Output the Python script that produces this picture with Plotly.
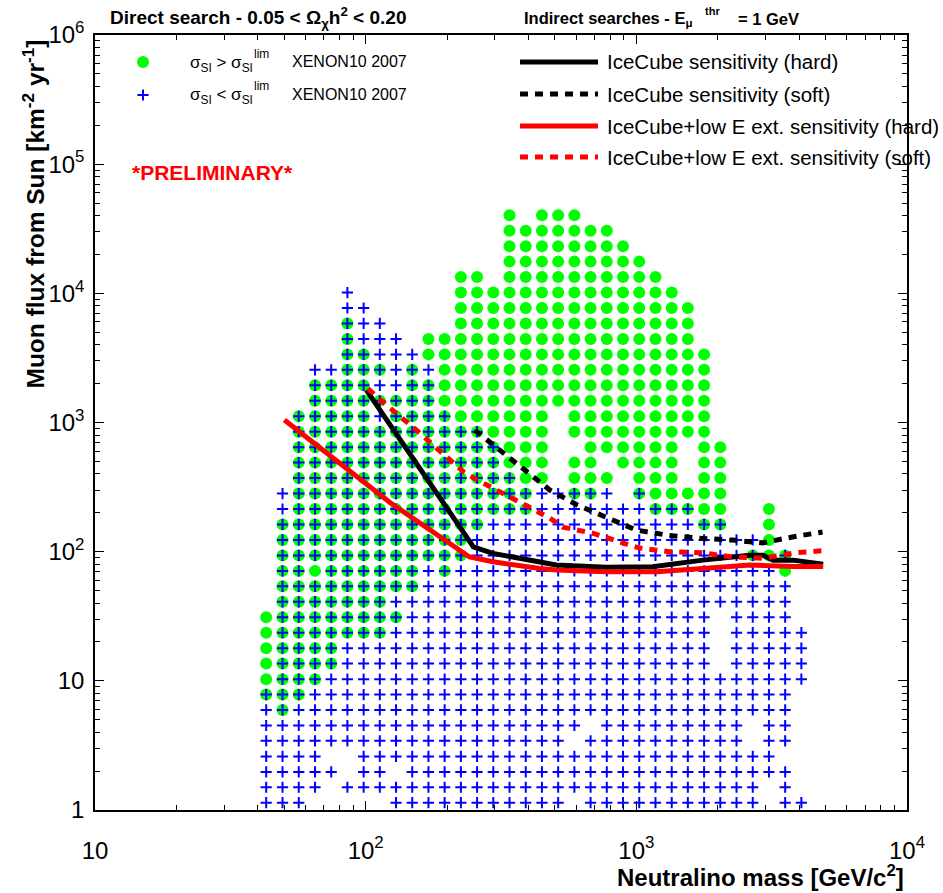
import plotly.graph_objects as go

# ---- scan grid (neutralino mass columns, muon-flux rows) ----
MASS = [42.9, 49.3, 56.6, 65.0, 74.6, 85.6, 98.3, 112.8, 129.5, 148.6, 170.6, 195.8,
        224.8, 258, 296.2, 340, 390.3, 448, 514.3, 590.4, 677.6, 777.9, 892.9, 1025,
        1177, 1351, 1550, 1780, 2043, 2345, 2692, 3090, 3547, 4071]
FLUX = [1.14, 1.50, 1.97, 2.60, 3.43, 4.51, 5.95, 7.83, 10.3, 13.6, 17.9, 23.6, 31.1,
        40.9, 53.9, 71.0, 93.6, 123.3, 162.4, 214, 281.8, 371.3, 489.1, 644.4, 848.9,
        1118, 1473, 1941, 2556, 3368, 4436, 5845, 7700, 10140, 13360, 17600, 23190,
        30550, 40250]

# one string per flux row, highest flux first; one character per mass column
# g = sigma_SI > limit, b = sigma_SI < limit, x = both, . = none
SCAN = [
    "...............g.ggg..............",
    "...............ggggggg............",
    "...............gggggggg...........",
    "...............ggggggggg..........",
    "............gg.gggggggggg.........",
    ".....b......gggggggggggggg........",
    ".....bb.....ggggggggggggggg.......",
    ".....xbb....ggggggggggggggg.......",
    ".....xbbb.ggggggggggggggggg.......",
    ".....xxbbbgggggggggggggggggg......",
    "...bbxxxbxbggggggggggggggggg......",
    "...xxxxbbxxggggggggggggggggg......",
    "...xxxxxxxxggggggggggggggggg......",
    "..xxxxxbxxxxgggggg.ggggggggg......",
    "..xxxxxxxxxxxxgggg.ggggggggg......",
    "..xxxxxxxxxxxxxggg..gggggg.gg.....",
    "..xxxxxxxxxxxxxggg.gg.gggg.gg.....",
    "..xxxxxxxxxxxxxxgg.ggg.ggg.gg.....",
    ".bxxxxxxxxxxxxxxxbbxxb.xggggg.....",
    ".bxxxxxxxxxxxxxxxbbbbbbbxxxgg..g..",
    ".xxxxxxxxxxxxxbbbbbbbbbbbbbxx..g..",
    ".xxxxxxxxxxxxbbbbbbbbbbbbbbbbbbg..",
    ".xxxxxxxxxxxxbbbbbbbbbbbbbbbbbxgx.",
    ".xxgxxxxxxbxbbbbbbbbbbbbbbbbbbbbg.",
    ".xxxxxxxxxbbbbbbbbbbbbbbbbbbbbbbb.",
    ".xxxxxxxbbbbbbbbbbbbbbbbbbbbbbbbb.",
    "gxxxxxxxxbbbbbbbbbbbbbbbbbbb.bbbb.",
    "gxxxxxxxbbbbbbbbbbbbbbbbbbbb.bbbbb",
    "gxxxxbbbbbbbbbbbbbbbbbbbbbbb.bbbbb",
    "gxxxxbbbbbbbbbbbbbbbbbbbbbbb.bbbbb",
    "gxxxbbbbbbbbbbbbbbbbbbbbbbbbbbbbbb",
    "xxxbbbbbbbbbbbbbbbbbbbbbbbbbbbbbb.",
    "bxbbbbbbbbbbbbbbbbbbbbbbbbbbbbbbb.",
    "bbbbbbbbbbbbbbbbbbbb.bbbbbbbbb.bb.",
    "bbbbbbbbbbbbbbbbbbb.bbbbbbbbbb.bb.",
    "bbbb..bbbbbbbbbbbbbbbbbbbbbbbbbb..",
    "bbbbb.bb.bbbbbbbbbbbbbbbbbbbbbbbb.",
    "bbbb.bbbbbbbbbbbbbbbbbbbbbbbbbb.b.",
    "bbb.....bbbbbbbbbbb.bbbbbbbbbbb.bb",
]

# ---- IceCube sensitivity curves ----
HARD_M = [100.6, 250, 295, 506, 774, 1150, 1760, 2620, 2940, 3200, 3800, 4900]
HARD_F = [1780, 109, 97, 79, 75.6, 76.4, 86, 94, 94, 86, 86, 80]
SOFT_M = [253, 318, 393, 479, 607, 776, 1000, 1305, 1710, 2264, 2924, 3776, 4876]
SOFT_F = [873, 590, 413, 300, 229, 182, 147, 134, 127, 123, 117, 130, 142]
LOWE_HARD_M = [50.1, 123, 242, 295, 440, 506, 774, 1190, 1760, 2620, 3800, 4900]
LOWE_HARD_F = [1045, 240, 91, 83.5, 74, 72, 70, 70, 74, 79, 76.6, 76.6]
LOWE_SOFT_M = [102, 114, 154, 230, 259, 331, 421, 479, 535, 690, 890, 1020, 1320, 1740,
               2260, 2950, 3890, 4960]
LOWE_SOFT_F = [1830, 1480, 873, 414, 358, 275, 210, 182, 155, 139, 117, 107, 100, 98,
               91, 89, 98, 102]

X_TICKS = [10, 100, 1000, 10000]
X_TEXT = ["10", "10<sup>2</sup>", "10<sup>3</sup>", "10<sup>4</sup>"]
Y_TICKS = [1, 10, 100, 1000, 1e4, 1e5, 1e6]
Y_TEXT = ["1", "10", "10<sup>2</sup>", "10<sup>3</sup>", "10<sup>4</sup>",
          "10<sup>5</sup>", "10<sup>6</sup>"]

GREEN = "#00ff00"
BLUE = "#0000ff"
RED = "#ff0000"
FONT = "Liberation Sans, Arial, sans-serif"
DOT = "8px,7px"

# ---- build point lists ----
gx, gy, bx, by = [], [], [], []
nrow = len(FLUX)
for k, row in enumerate(SCAN):
    f = FLUX[nrow - 1 - k]
    for i, c in enumerate(row):
        if c in "gx":
            gx.append(MASS[i]); gy.append(f)
        if c in "bx":
            bx.append(MASS[i]); by.append(f)

fig = go.Figure()
fig.add_trace(go.Scatter(x=gx, y=gy, mode="markers",
                         marker=dict(symbol="circle", size=12, color=GREEN, line=dict(width=0))))
fig.add_trace(go.Scatter(x=bx, y=by, mode="markers",
                         marker=dict(symbol="cross-thin", size=8, line=dict(width=2, color=BLUE))))
fig.add_trace(go.Scatter(x=HARD_M, y=HARD_F, mode="lines", line=dict(color="black", width=5)))
fig.add_trace(go.Scatter(x=SOFT_M, y=SOFT_F, mode="lines", line=dict(color="black", width=5, dash=DOT)))
fig.add_trace(go.Scatter(x=LOWE_HARD_M, y=LOWE_HARD_F, mode="lines", line=dict(color=RED, width=5)))
fig.add_trace(go.Scatter(x=LOWE_SOFT_M, y=LOWE_SOFT_F, mode="lines", line=dict(color=RED, width=5, dash=DOT)))

# ---- hand-made legend on an overlay axis in plot-area fractions ----
L, R, T, B = 95, 907, 35, 810
def PX(p): return (p - L) / (R - L)
def PY(p): return (B - p) / (B - T)

fig.add_trace(go.Scatter(x=[PX(143)], y=[PY(62)], xaxis="x2", yaxis="y2", mode="markers",
                         marker=dict(symbol="circle", size=12, color=GREEN)))
fig.add_trace(go.Scatter(x=[PX(143)], y=[PY(95)], xaxis="x2", yaxis="y2", mode="markers",
                         marker=dict(symbol="cross-thin", size=8, line=dict(width=2, color=BLUE))))
leg_lines = [(62, "black", "solid"), (94, "black", DOT), (126, RED, "solid"), (157, RED, DOT)]
for yy, col, ds in leg_lines:
    fig.add_trace(go.Scatter(x=[PX(520), PX(598)], y=[PY(yy), PY(yy)], xaxis="x2", yaxis="y2",
                             mode="lines", line=dict(color=col, width=5, dash=ds)))

ann = []
def A(text, x, y, size, xanchor="left", bold=False, color="black", **kw):
    t = "<b>" + text + "</b>" if bold else text
    ann.append(dict(text=t, x=PX(x), y=PY(y), xref="paper", yref="paper", showarrow=False,
                    xanchor=xanchor, yanchor="middle", font=dict(size=size, color=color, family=FONT), **kw))

for yy, sign in [(62, "&gt;"), (94, "&lt;")]:
    A("σ<sub>SI</sub> " + sign + " σ<sub>SI</sub>", 188, yy + 2, 17)
    A("lim", 252, yy - 8, 12)
    A("XENON10 2007", 290, yy, 16)
leg_txt = ["IceCube sensitivity (hard)", "IceCube sensitivity (soft)",
           "IceCube+low E ext. sensitivity (hard)", "IceCube+low E ext. sensitivity (soft)"]
for (yy, _, _), t in zip(leg_lines, leg_txt):
    A(t, 605, yy, 20.5)

A("*PRELIMINARY*", 130, 172, 21, bold=True, color=RED)
A("Direct search - 0.05 &lt; Ω<sub>χ</sub>h<sup>2</sup> &lt; 0.20", 108, 18, 19, bold=True)
A("Indirect searches - E<sub>μ</sub>", 522, 19, 16.5, bold=True)
A("thr", 703, 11, 11, bold=True)
A("= 1 GeV", 736, 19, 16.5, bold=True)
A("Neutralino mass [GeV/c<sup>2</sup>]", 906, 876, 24, xanchor="right", bold=True)
ann.append(dict(text="<b>Muon flux from Sun [km<sup>-2</sup> yr<sup>-1</sup>]</b>",
                x=PX(33), y=PY(38), xref="paper", yref="paper", showarrow=False,
                textangle=-90, xanchor="center", yanchor="top",
                font=dict(size=24.5, color="black", family=FONT)))

axis_common = dict(type="log", showgrid=False, zeroline=False, showline=True, linecolor="black",
                   linewidth=1.5, mirror="allticks", ticks="inside", ticklen=9, tickwidth=1.3,
                   tickcolor="black", tickfont=dict(size=24, family=FONT, color="black"),
                   minor=dict(ticks="inside", ticklen=5, tickwidth=1.2, tickcolor="black",
                              dtick="D1", showgrid=False))

fig.update_layout(
    width=943, height=893, showlegend=False,
    paper_bgcolor="white", plot_bgcolor="white",
    margin=dict(l=L, r=943 - R, t=T, b=893 - B),
    xaxis=dict(range=[1, 4], tickvals=X_TICKS, ticktext=X_TEXT, ticklabelstandoff=18, **axis_common),
    yaxis=dict(range=[0, 6], tickvals=Y_TICKS, ticktext=Y_TEXT, ticklabelstandoff=4, **axis_common),
    xaxis2=dict(overlaying="x", range=[0, 1], visible=False, fixedrange=True),
    yaxis2=dict(overlaying="y", range=[0, 1], visible=False, fixedrange=True),
    annotations=ann,
)
fig.write_html("out.html")
